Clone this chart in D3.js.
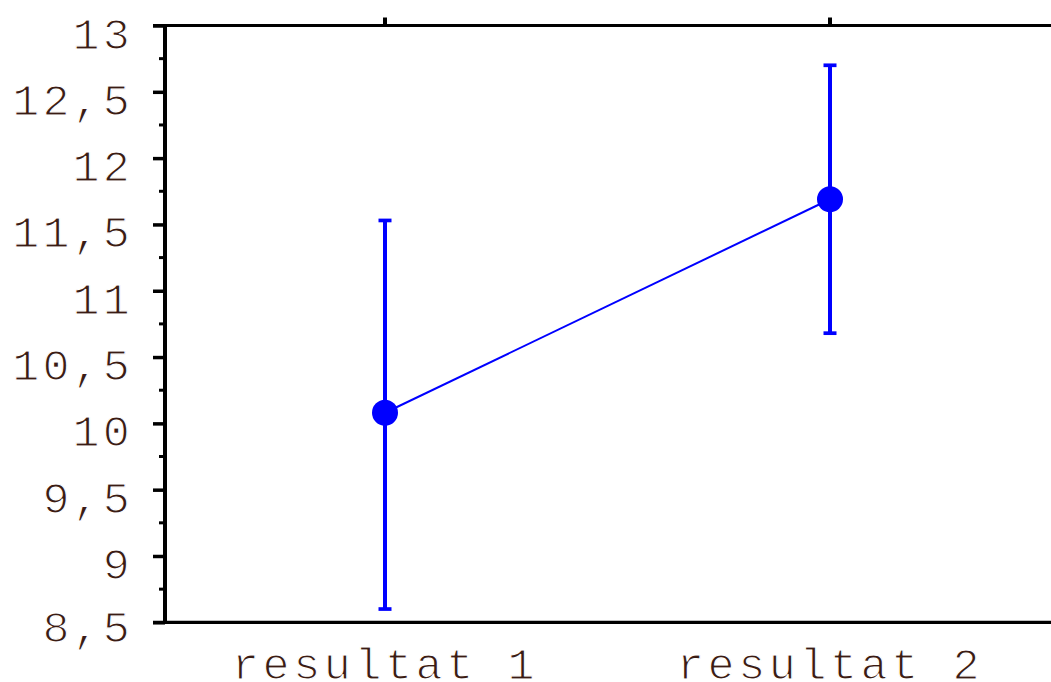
<!DOCTYPE html>
<html><head><meta charset="utf-8">
<script src="https://cdn.jsdelivr.net/npm/d3@7"></script>
<style>html,body{margin:0;padding:0;background:#fff;overflow:hidden}</style>
</head><body>
<svg id="c" width="1051" height="682"></svg>
<script>
const categories = ["resultat 1", "resultat 2"];
const means = [10.08, 11.69];
const lower = [8.60, 10.68];
const upper = [11.53, 12.70];
const yTicks = [8.5, 9, 9.5, 10, 10.5, 11, 11.5, 12, 12.5, 13];
const yMinorTicks = [8.75, 9.25, 9.75, 10.25, 10.75, 11.25, 11.75, 12.25, 12.75];

(function () {
const svg = d3.select("#c");
const plotLeft = 165, plotTop = 25.5, plotBottom = 622.3;
const x = d3.scalePoint().domain(categories).range([162.5, 1052.5]).padding(0.5);
const y = d3.scaleLinear().domain([8.5, 13]).range([plotBottom, plotTop]);
const blue = "#0000ff", ink = "#000", textInk = "#3a1c14";
const fmt = v => String(v).replace(".", ",");
const font = "'Liberation Mono', monospace";

// axes frame
svg.append("line").attr("x1", 153).attr("x2", 1051).attr("y1", y(13)).attr("y2", y(13)).attr("stroke", ink).attr("stroke-width", 3.2);
svg.append("line").attr("x1", 153).attr("x2", 1051).attr("y1", y(8.5)).attr("y2", y(8.5)).attr("stroke", ink).attr("stroke-width", 3.2);
svg.append("line").attr("x1", plotLeft).attr("x2", plotLeft).attr("y1", y(13) - 1.5).attr("y2", y(8.5) + 1.5).attr("stroke", ink).attr("stroke-width", 4);

// y axis ticks & labels
const yAxis = d3.axisLeft(y).tickValues(yTicks).tickSize(12).tickPadding(22).tickFormat(fmt);
const gy = svg.append("g").attr("transform", `translate(${plotLeft},0)`).call(yAxis);
gy.select(".domain").remove();
gy.selectAll(".tick line").attr("stroke", ink).attr("stroke-width", 3.5);
gy.selectAll(".tick text")
  .attr("font-family", font).attr("font-size", 45).attr("fill", textInk)
  .attr("stroke", "#fff").attr("stroke-width", 1.2)
  .attr("letter-spacing", 3.2)
  .attr("dy", (d, i) => i === 0 ? "0.42em" : "0.5em")
  .attr("x", -32);
svg.append("g").selectAll("line").data(yMinorTicks).join("line")
  .attr("x1", plotLeft - 6).attr("x2", plotLeft).attr("y1", d => y(d)).attr("y2", d => y(d))
  .attr("stroke", ink).attr("stroke-width", 3);

// top category ticks
svg.append("g").selectAll("line").data(categories).join("line")
  .attr("x1", d => x(d)).attr("x2", d => x(d)).attr("y1", y(13)).attr("y2", y(13) - 8)
  .attr("stroke", ink).attr("stroke-width", 4);

// x labels
svg.append("g").selectAll("text").data(categories).join("text")
  .attr("x", d => x(d)).attr("y", 679).attr("text-anchor", "middle")
  .attr("font-family", font).attr("font-size", 45).attr("fill", textInk)
  .attr("stroke", "#fff").attr("stroke-width", 1.2)
  .attr("letter-spacing", 3.6)
  .text(d => d);

// connecting line
svg.append("path")
  .datum(categories.map((c, i) => [x(c), y(means[i])]))
  .attr("d", d3.line()).attr("fill", "none").attr("stroke", blue).attr("stroke-width", 2);

// error bars
const eb = svg.append("g");
categories.forEach((c, i) => {
  eb.append("line").attr("x1", x(c)).attr("x2", x(c)).attr("y1", y(upper[i])).attr("y2", y(lower[i]))
    .attr("stroke", blue).attr("stroke-width", 4);
  [upper[i], lower[i]].forEach(v => {
    eb.append("line").attr("x1", x(c) - 6.5).attr("x2", x(c) + 6.5).attr("y1", y(v)).attr("y2", y(v))
      .attr("stroke", blue).attr("stroke-width", 3.7);
  });
});

// markers
svg.append("g").selectAll("circle").data(categories).join("circle")
  .attr("cx", d => x(d)).attr("cy", (d, i) => y(means[i])).attr("r", 13).attr("fill", blue);
})();
</script>
</body></html>
